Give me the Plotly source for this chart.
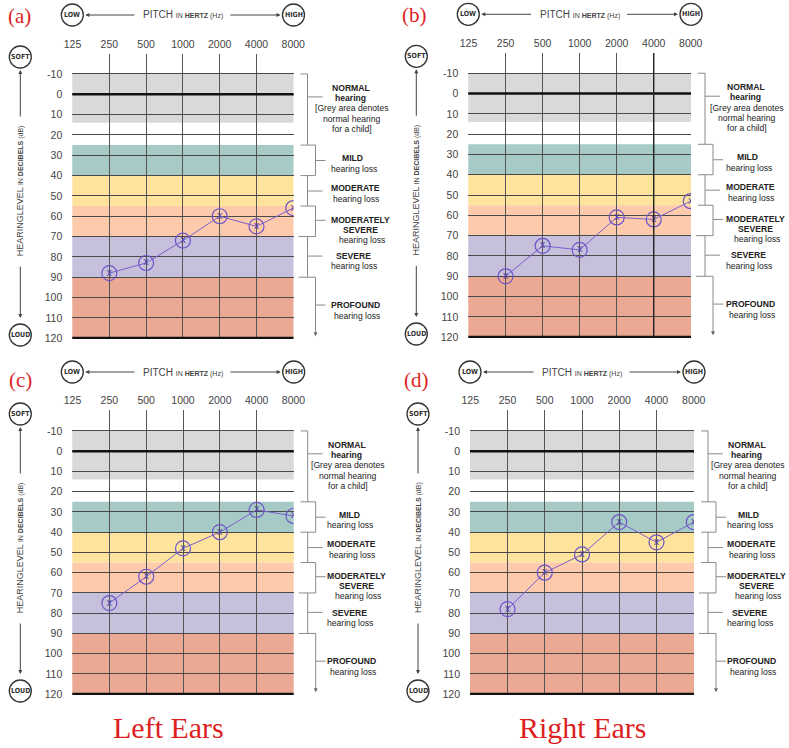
import math
import plotly.graph_objects as go

W, H = 789, 748

# values
freqs = [250, 500, 1000, 2000, 4000, 8000]
db_a = [88, 83, 72, 60, 65, 56]   # (a) left ears
db_b = [90, 75, 77, 61, 62, 53]   # (b) right ears
db_c = [75, 62, 48, 40, 29, 32]   # (c) left ears
db_d = [78, 60, 51, 35, 45, 35]   # (d) right ears

freq_ticks = [125, 250, 500, 1000, 2000, 4000, 8000]
db_ticks = [-10, 0, 10, 20, 30, 40, 50, 60, 70, 80, 90, 100, 110, 120]

band_from = [-10, 25, 40, 55, 70, 90]
band_to = [14, 40, 55, 70, 90, 120]
band_colors = ["#d9d9d9", "#a6cbc6", "#fde39c", "#fdcbac", "#c6c0dc", "#eba994"]

# name, data, box in px: left, right, top of grid, y(-10), y(120),
# label x, label y, shift of the right hand texts
panels = [
    ("(a)", db_a, 72.3, 293.5, 54, 74, 339, 19, 16, 0),
    ("(b)", db_b, 468.3, 691, 53, 73.3, 338, 414, 15, -2.5),
    ("(c)", db_c, 72.3, 293.7, 410, 431, 695, 20, 380, -4),
    ("(d)", db_d, 470, 694, 410, 431, 695, 416, 380, -4.5),
]

# right hand bracket segments: (px from right edge, dB) pairs
brackets = [
    (7, -10, 14, -10), (14, -10, 14, 25), (14, 1.3, 29, 1.3),
    (7, 25, 22, 25), (22, 25, 22, 40), (7, 40, 22, 40), (22, 32.6, 32, 32.6),
    (14, 40, 14, 55), (14, 47.6, 29, 47.6),
    (7, 55, 22, 55), (22, 55, 22, 70), (5, 70, 22, 70), (22, 62, 32, 62),
    (14, 70, 14, 90), (14, 79.6, 29, 79.6),
    (5, 90, 22, 90), (22, 90, 22, 117), (22, 103.7, 32, 103.7),
]

# right hand labels: text, dB, px from right edge, bold
side_labels = [
    ("NORMAL", -3, 57, True), ("hearing", 1.8, 57, True),
    ("[Grey area denotes", 7, 58.7, False), ("normal hearing", 12.2, 58.2, False),
    ("for a child]", 17.2, 58.7, False),
    ("MILD", 31.4, 59.3, True), ("hearing loss", 36.6, 60.5, False),
    ("MODERATE", 46, 61.5, True), ("hearing loss", 51.3, 62, False),
    ("MODERATELY", 61.8, 66.5, True), ("SEVERE", 66.8, 67, True),
    ("hearing loss", 71.7, 68, False),
    ("SEVERE", 79.7, 60, True), ("hearing loss", 84.7, 60.7, False),
    ("PROFOUND", 103.7, 62, True), ("hearing loss", 109, 63, False),
]

SANS = "Liberation Sans, Arial, sans-serif"
COND = "DejaVu Sans Condensed, Liberation Sans, sans-serif"
SERIF = "Liberation Serif, Times New Roman, serif"
RED = "#dd1f1f"


def px(x):
    return x / W


def py(y):
    return 1 - y / H


fig = go.Figure()
shapes = []
annotations = []
layout = {}


def note(x, y, text, **kw):
    d = dict(x=px(x), y=py(y), xref="paper", yref="paper", text=text,
             showarrow=False, xanchor="center", yanchor="middle")
    d.update(kw)
    annotations.append(d)


def circle_label(cx, cy, text):
    r = 11
    shapes.append(dict(type="circle", xref="paper", yref="paper",
                       x0=px(cx - r), x1=px(cx + r), y0=py(cy + r), y1=py(cy - r),
                       line=dict(color="#333", width=1.3)))
    note(cx, cy, "<b>%s</b>" % text, font=dict(family=COND, size=7, color="#333"))


def arrow(hx, hy, tx, ty):
    annotations.append(dict(x=px(hx), y=py(hy), xref="paper", yref="paper",
                            ax=tx - hx, ay=ty - hy, text="", showarrow=True,
                            arrowhead=2, arrowsize=0.8, arrowwidth=1,
                            arrowcolor="#444"))


for i, (name, vals, left, right, top, m10, b120, lx, ly, shift) in enumerate(panels):
    n = "" if i == 0 else str(i + 1)
    xr, yr = "x" + n, "y" + n
    w = right - left
    scale = (b120 - m10) / 130.0
    top_db = -10 - (m10 - top) / scale

    layout["xaxis" + n] = dict(
        type="log", domain=[px(left), px(right)], anchor=yr,
        range=[math.log10(125) - 0.002, math.log10(8000) + 0.002],
        autorange=False, automargin=False,
        side="top", tickvals=freq_ticks, ticktext=[str(f) for f in freq_ticks],
        showgrid=True, gridcolor="#555", gridwidth=1.4, zeroline=False,
        showline=False, ticks="", ticklabelstandoff=3,
        tickfont=dict(family=SANS, size=10.5, color="#444"), fixedrange=True)
    layout["yaxis" + n] = dict(
        domain=[py(b120), py(top)], anchor=xr, range=[120.4, top_db],
        autorange=False, automargin=False,
        tickvals=db_ticks, ticktext=[str(v) for v in db_ticks],
        showgrid=True, gridcolor="#4a4a4a", gridwidth=1.3,
        zeroline=False, showline=False, ticks="", ticklabelstandoff=9,
        tickfont=dict(family=SANS, size=10.5, color="#444"), fixedrange=True)

    # hearing bands
    for lo, hi, col in zip(band_from, band_to, band_colors):
        shapes.append(dict(type="rect", xref=xr + " domain", yref=yr,
                           x0=0, x1=1, y0=lo, y1=hi, fillcolor=col,
                           line=dict(width=0), layer="below"))
    shapes.append(dict(type="line", xref=xr + " domain", yref=yr, x0=0, x1=1,
                       y0=0, y1=0, line=dict(color="#111", width=2.6)))
    shapes.append(dict(type="line", xref=xr + " domain", yref=yr, x0=0, x1=1,
                       y0=120, y1=120, line=dict(color="#111", width=3)))
    if name == "(b)":
        shapes.append(dict(type="line", xref=xr, yref=yr, x0=4000, x1=4000,
                           y0=top_db, y1=120, line=dict(color="#222", width=1.4)))

    # brackets on the right
    for x0, y0, x1, y1 in brackets:
        shapes.append(dict(type="line", xref=xr + " domain", yref=yr,
                           x0=1 + x0 / w, x1=1 + x1 / w, y0=y0, y1=y1,
                           line=dict(color="#8a8a8a", width=1)))
    annotations.append(dict(x=1 + 22 / w, y=119, xref=xr + " domain", yref=yr,
                            ax=0, ay=-5, text="", showarrow=True, arrowhead=2,
                            arrowsize=0.8, arrowwidth=1, arrowcolor="#666"))
    for text, db, off, bold in side_labels:
        annotations.append(dict(
            x=1 + (off + shift) / w, y=db, xref=xr + " domain", yref=yr,
            text="<b>%s</b>" % text if bold else text, showarrow=False,
            xanchor="center", yanchor="middle",
            font=dict(family=SANS, size=8.6, color="#222")))

    # header: LOW <- PITCH IN HERTZ (Hz) -> HIGH
    hy = m10 - 59
    mid = (left + right) / 2
    circle_label(left, hy, "LOW")
    circle_label(right, hy, "HIGH")
    arrow(left + 13, hy, mid - 47, hy)
    arrow(right - 13, hy, mid + 46, hy)
    note(mid, hy, "PITCH <span style='font-size:7px'>IN <b>HERTZ</b> (Hz)</span>",
         font=dict(family=SANS, size=10, color="#444"))

    # left side: SOFT ^ HEARINGLEVEL ... v LOUD
    sx = left - 52
    circle_label(sx, m10 - 17, "SOFT")
    circle_label(sx, b120 - 4, "LOUD")
    arrow(sx, m10 - 4, sx, m10 + 44)
    arrow(sx, b120 - 21, sx, m10 + 191)
    note(sx, m10 + 117,
         "HEARINGLEVEL <span style='font-size:7px'>IN <b>DECIBELS</b> (dB)</span>",
         textangle=-90, font=dict(family=SANS, size=9, color="#444"))

    note(lx, ly, name, font=dict(family=SERIF, size=21, color=RED))

    # audiogram trace
    fig.add_trace(go.Scatter(
        x=freqs, y=vals, xaxis=xr, yaxis=yr, mode="lines+markers+text",
        line=dict(color="#7a5fcb", width=1),
        marker=dict(symbol="circle-open", size=15, color="#6d55c9",
                    line=dict(width=1.2)),
        text=["x"] * len(vals), textposition="middle center",
        textfont=dict(family=SANS, size=10, color="#4a3aa8"),
        hoverinfo="x+y", showlegend=False))

note(168, 727, "Left Ears", font=dict(family=SERIF, size=30, color=RED))
note(583, 727, "Right Ears", font=dict(family=SERIF, size=30, color=RED))

fig.update_layout(
    width=W, height=H, autosize=False,
    margin=dict(l=0, r=0, t=0, b=0, pad=0),
    paper_bgcolor="white", plot_bgcolor="white",
    shapes=shapes, annotations=annotations, showlegend=False,
    **layout)

# drop the page's default body margin so the figure sits at the top-left corner
fig.write_html("out.html", config={"displayModeBar": False},
               post_script="document.body.style.margin = '0px';")
